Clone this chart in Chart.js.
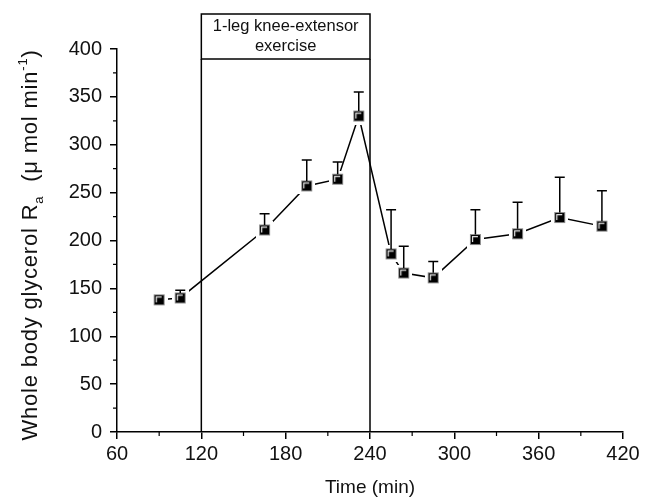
<!DOCTYPE html>
<html>
<head>
<meta charset="utf-8">
<script src="https://cdn.jsdelivr.net/npm/chart.js@4.4.0/dist/chart.umd.min.js"></script>
<style>
html, body { margin: 0; padding: 0; background: #fff; }
#wrap { width: 651px; height: 499px; }
</style>
</head>
<body>
<div id="wrap"><canvas id="raChart" width="651" height="499"></canvas></div>
<script>
// glycerol Ra over time, mean + SE
const times = [90, 105, 165, 195, 217, 232, 255, 264, 285, 315, 345, 375, 405];
const glycerolRa = [138, 140, 211, 257, 264, 330, 186, 166, 161, 201, 207, 224, 215];
const glycerolSE = [3, 8, 17, 27, 18, 25, 46, 28, 17, 31, 33, 42, 37];
const xTicks = [60, 120, 180, 240, 300, 360, 420];
const yTicks = [0, 50, 100, 150, 200, 250, 300, 350, 400];
const exercisePeriod = [120, 240];
const exerciseLabel = ['1-leg knee-extensor', 'exercise'];

const FONT = "'Liberation Sans', Arial, sans-serif";

// black square with a light rim, white padding keeps lines off the marker
function squareMarker() {
    const c = document.createElement('canvas');
    c.width = 17; c.height = 17;
    const g = c.getContext('2d');
    g.fillStyle = '#fff';
    g.fillRect(0, 0, 17, 17);
    g.fillStyle = '#000';
    g.fillRect(3, 3, 11, 11);
    g.strokeStyle = '#8a8a8a';
    g.lineWidth = 1;
    g.strokeRect(3.5, 3.5, 10, 10);
    g.strokeStyle = '#e8e8e8';
    g.lineWidth = 1.2;
    g.beginPath();
    g.moveTo(5.6, 11);
    g.lineTo(5.6, 5.6);
    g.lineTo(11, 5.6);
    g.stroke();
    return c;
}

const exerciseBox = {
    id: 'exerciseBox',
    beforeDatasetsDraw(chart) {
        const ctx = chart.ctx, xs = chart.scales.x, area = chart.chartArea;
        const x1 = xs.getPixelForValue(exercisePeriod[0]);
        const x2 = xs.getPixelForValue(exercisePeriod[1]);
        const top = 14, head = 59;
        ctx.save();
        ctx.strokeStyle = '#000';
        ctx.lineWidth = 1.5;
        ctx.strokeRect(x1, top, x2 - x1, head - top);
        ctx.beginPath();
        ctx.moveTo(x1, head); ctx.lineTo(x1, area.bottom);
        ctx.moveTo(x2, head); ctx.lineTo(x2, area.bottom);
        ctx.stroke();
        ctx.fillStyle = '#111';
        ctx.font = '16.5px ' + FONT;
        ctx.textAlign = 'center';
        ctx.textBaseline = 'middle';
        ctx.fillText(exerciseLabel[0], (x1 + x2) / 2, 26);
        ctx.fillText(exerciseLabel[1], (x1 + x2) / 2, 46);
        ctx.restore();
    }
};

const errorBars = {
    id: 'errorBars',
    afterDatasetsDraw(chart) {
        const ctx = chart.ctx, xs = chart.scales.x, ys = chart.scales.y;
        ctx.save();
        ctx.strokeStyle = '#000';
        ctx.lineWidth = 1.5;
        times.forEach((t, i) => {
            const x = xs.getPixelForValue(t);
            const y0 = ys.getPixelForValue(glycerolRa[i]) - 5;
            const y1 = ys.getPixelForValue(glycerolRa[i] + glycerolSE[i]);
            if (y1 >= y0) return;
            ctx.beginPath();
            ctx.moveTo(x, y0); ctx.lineTo(x, y1);
            ctx.moveTo(x - 5, y1); ctx.lineTo(x + 5, y1);
            ctx.stroke();
        });
        ctx.restore();
    }
};

const minorTicks = {
    id: 'minorTicks',
    afterDraw(chart) {
        const ctx = chart.ctx, xs = chart.scales.x, ys = chart.scales.y, area = chart.chartArea;
        ctx.save();
        ctx.strokeStyle = '#000';
        ctx.lineWidth = 1.2;
        ctx.beginPath();
        for (let i = 0; i < xTicks.length - 1; i++) {
            const x = xs.getPixelForValue((xTicks[i] + xTicks[i + 1]) / 2);
            ctx.moveTo(x, area.bottom); ctx.lineTo(x, area.bottom + 4);
        }
        for (let i = 0; i < yTicks.length - 1; i++) {
            const y = ys.getPixelForValue((yTicks[i] + yTicks[i + 1]) / 2);
            ctx.moveTo(area.left, y); ctx.lineTo(area.left - 4, y);
        }
        ctx.stroke();
        ctx.restore();
    }
};

// rotated y title with subscript a and superscript -1
const yTitle = {
    id: 'yTitle',
    afterDraw(chart) {
        const ctx = chart.ctx;
        const big = '22px ' + FONT, small = '13px ' + FONT;
        const parts = [
            { t: 'Whole body glycerol R', f: big, dy: 0 },
            { t: 'a', f: small, dy: 6 },
            { t: '  (\u03bc mol min', f: big, dy: 0 },
            { t: '-1', f: small, dy: -10 },
            { t: ')', f: big, dy: 0 }
        ];
        ctx.save();
        ctx.letterSpacing = '0.8px';
        let total = 0;
        parts.forEach(p => { ctx.font = p.f; p.w = ctx.measureText(p.t).width; total += p.w; });
        ctx.translate(37, 245);
        ctx.rotate(-Math.PI / 2);
        ctx.fillStyle = '#111';
        ctx.textBaseline = 'alphabetic';
        let x = -total / 2;
        parts.forEach(p => {
            ctx.font = p.f;
            ctx.fillText(p.t, x, p.dy);
            x += p.w;
        });
        ctx.restore();
    }
};

const ctx = document.getElementById('raChart').getContext('2d');
new Chart(ctx, {
    type: 'line',
    data: {
        datasets: [{
            data: times.map((t, i) => ({ x: t, y: glycerolRa[i] })),
            borderColor: '#000',
            borderWidth: 1.5,
            tension: 0,
            pointStyle: squareMarker(),
            pointRadius: 6,
            pointHoverRadius: 6
        }]
    },
    options: {
        responsive: false,
        animation: false,
        events: [],
        layout: { padding: { left: 0, top: 49, right: 28, bottom: 0 } },
        plugins: { legend: { display: false }, tooltip: { enabled: false } },
        scales: {
            x: {
                type: 'linear',
                min: 60,
                max: 420,
                afterBuildTicks: s => { s.ticks = xTicks.map(v => ({ value: v })); },
                afterFit: s => { s.height = 67; },
                grid: { drawOnChartArea: false, color: '#000', lineWidth: 1.5, tickLength: 7 },
                border: { color: '#000', width: 1.5 },
                ticks: { color: '#111', font: { family: FONT, size: 20 }, padding: 3, maxRotation: 0 },
                title: { display: true, text: 'Time (min)', color: '#111', font: { family: FONT, size: 19 }, padding: { top: 0, bottom: 0 } }
            },
            y: {
                min: 0,
                max: 400,
                afterBuildTicks: s => { s.ticks = yTicks.map(v => ({ value: v })); },
                afterFit: s => { s.width = 117; },
                grid: { drawOnChartArea: false, color: '#000', lineWidth: 1.5, tickLength: 7 },
                border: { color: '#000', width: 1.5 },
                ticks: { color: '#111', font: { family: FONT, size: 20 }, padding: 8 }
            }
        }
    },
    plugins: [exerciseBox, errorBars, minorTicks, yTitle]
});
</script>
</body>
</html>
